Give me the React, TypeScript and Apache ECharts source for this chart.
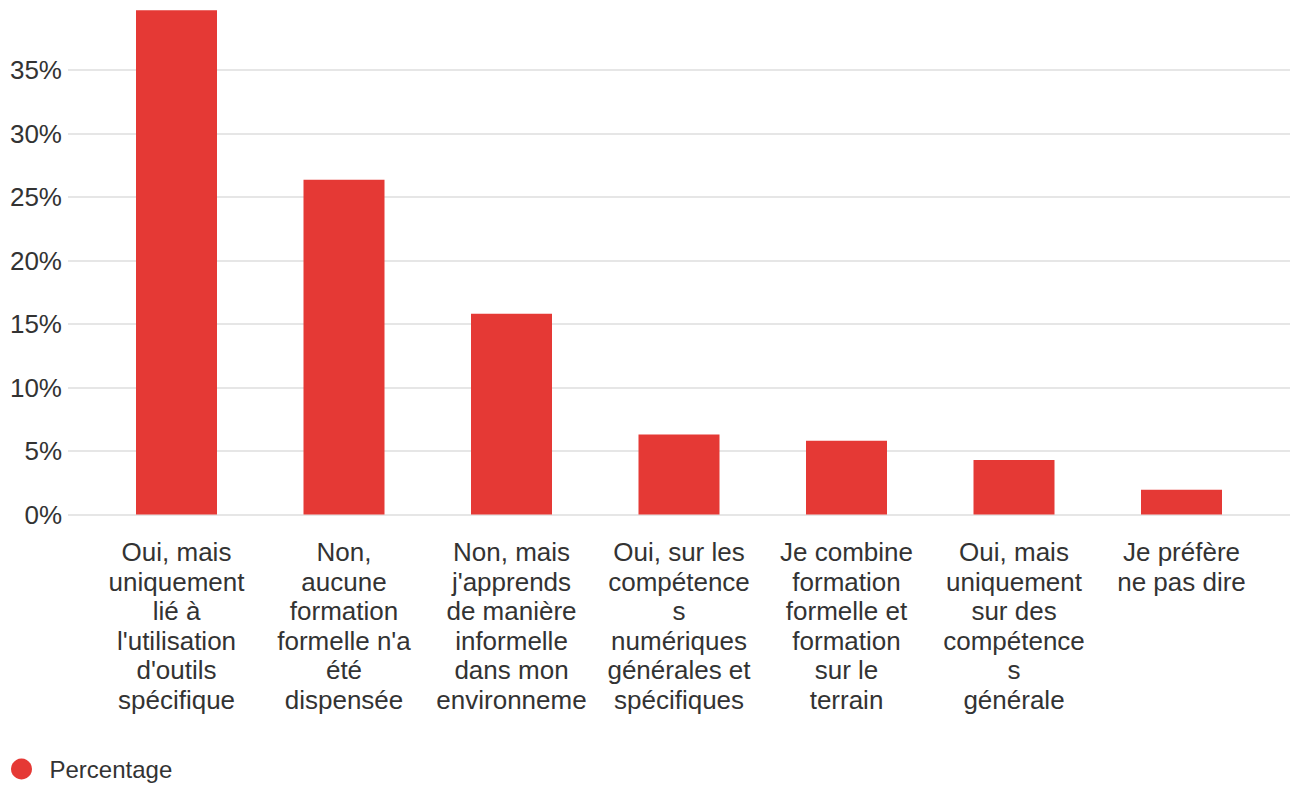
import React, { useEffect, useRef } from "react";
import * as echarts from "echarts";

const categories = [
  "Oui, mais\nuniquement\nlié à\nl'utilisation\nd'outils\nspécifique",
  "Non,\naucune\nformation\nformelle n'a\nété\ndispensée",
  "Non, mais\nj'apprends\nde manière\ninformelle\ndans mon\nenvironneme",
  "Oui, sur les\ncompétence\ns\nnumériques\ngénérales et\nspécifiques",
  "Je combine\nformation\nformelle et\nformation\nsur le\nterrain",
  "Oui, mais\nuniquement\nsur des\ncompétence\ns\ngénérale",
  "Je préfère\nne pas dire",
];
const values = [39.7, 26.35, 15.8, 6.3, 5.8, 4.3, 1.95];
const seriesName = "Percentage";
const yTicks = [0, 5, 10, 15, 20, 25, 30, 35];

const BAR_COLOR = "#e53935";
const TEXT_COLOR = "#333333";
const FONT = "'Liberation Sans', Arial, sans-serif";

export default function App() {
  const ref = useRef<HTMLDivElement>(null);
  useEffect(() => {
    if (!ref.current) return;
    const chart = echarts.init(ref.current, null, { renderer: "svg" });
    const step = 5;
    const pxPerStep = 63.5;
    const zeroY = 514.5;
    chart.setOption({
      animation: false,
      textStyle: { fontFamily: FONT },
      legend: {
        data: [seriesName],
        left: 11,
        top: 757,
        padding: 0,
        icon: "circle",
        itemWidth: 30,
        itemHeight: 21,
        itemGap: 10,
        textStyle: { fontSize: 24, color: TEXT_COLOR, fontFamily: FONT, padding: [0, 0, 0, 8] },
      },
      grid: [
        {
          left: 68,
          right: 0,
          top: zeroY - pxPerStep * 7,
          height: pxPerStep * 7,
          containLabel: false,
        },
        {
          left: 92.75,
          width: 1172.5,
          top: zeroY - pxPerStep * 8,
          height: pxPerStep * 8,
          containLabel: false,
        },
      ],
      xAxis: [
        { type: "category", gridIndex: 0, show: false, data: categories },
        {
          type: "category",
          gridIndex: 1,
          data: categories,
          axisLine: { show: false },
          axisTick: { show: false },
          axisLabel: {
            interval: 0,
            fontSize: 26,
            lineHeight: 29.5,
            color: TEXT_COLOR,
            margin: 23,
            align: "center",
          },
        },
      ],
      yAxis: [
        {
          type: "value",
          gridIndex: 0,
          min: yTicks[0],
          max: yTicks[yTicks.length - 1],
          interval: step,
          axisLine: { show: false },
          axisTick: { show: false },
          axisLabel: {
            fontSize: 26,
            color: TEXT_COLOR,
            margin: 6,
            formatter: (v: number) => `${v}%`,
          },
          splitLine: { show: true, lineStyle: { color: "#e6e6e6", width: 2 } },
        },
        {
          type: "value",
          gridIndex: 1,
          min: 0,
          max: 40,
          interval: step,
          show: false,
          splitLine: { show: false },
        },
      ],
      series: [
        {
          name: seriesName,
          type: "bar",
          xAxisIndex: 1,
          yAxisIndex: 1,
          data: values,
          barWidth: 81,
          itemStyle: { color: BAR_COLOR },
        },
      ],
    });
    return () => chart.dispose();
  }, []);
  return (
    <div
      ref={ref}
      style={{ position: "fixed", left: 0, top: 0, width: 1290, height: 785, background: "#fff" }}
    />
  );
}
